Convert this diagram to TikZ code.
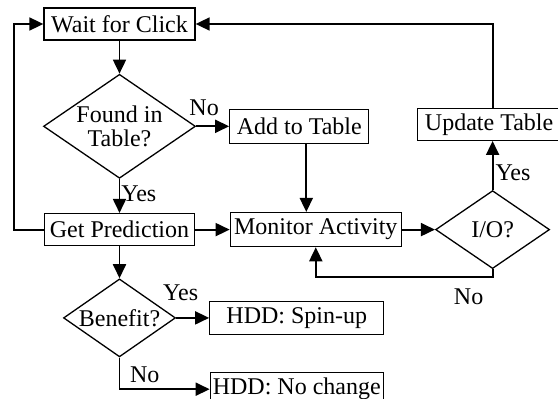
\documentclass[tikz,border=0pt]{standalone}
\usepackage{fontspec}
\setmainfont{Liberation Serif}
\usetikzlibrary{arrows.meta, shapes.geometric, positioning}

\begin{document}
\begin{tikzpicture}[x=1pt, y=1pt,
    block/.style={rectangle, draw, line width=1.3pt, inner sep=0pt, minimum height=32pt},
    decision/.style={diamond, draw, line width=1.3pt, inner sep=0pt, aspect=1.46, align=center},
    arr/.style={line width=1.8pt, -{Triangle[length=14pt, width=13pt]}},
    lbl/.style={inner sep=0pt},
    font=\fontsize{24pt}{24pt}\selectfont,
    node distance=33pt]
        \useasboundingbox (0,0) rectangle (558,-399);
        \node[block, minimum width=151pt] (wait) at (119.5,-24) {Wait for Click};
        \node[decision, minimum width=152pt, minimum height=104pt] (found) [below = of wait] {Found in\\Table?};
        \node[block, minimum width=139pt, minimum height=34pt] (add) [right = of found] {Add to Table};
        \node[block, minimum width=150pt] (pred) [below = 34pt of found] {Get Prediction};
        \node[block, minimum width=171pt, minimum height=34pt] (monitor) [right = 34.5pt of pred] {Monitor Activity};
        \node[decision, minimum width=114pt, minimum height=78pt] (io) [right = of monitor] {I/O?};
        \node[block, minimum width=143pt] (update) [above = 49pt of io, xshift=-3.5pt] {Update Table};
        \node[decision, minimum width=112pt, minimum height=78pt] (benefit) [below = 32pt of pred] {Benefit?};
        \node[block, minimum width=174pt, minimum height=33pt] (spin) [right = of benefit] {HDD: Spin-up};
        \node[block, minimum width=173pt, minimum height=33pt] (nochange) [below = 37pt of spin] {HDD: No change};

        \path[arr] (wait) edge (found);
        \path[arr] (found) edge node[lbl, at start, anchor=south, xshift=8pt, yshift=10pt] {No} (add);
        \path[arr] (found) edge node[lbl, at start, anchor=north west, xshift=1pt, yshift=-6pt] {Yes} (pred);
        \path[arr] (pred) edge (monitor);
        \path[arr] (monitor) edge (io);
        \path[arr] (pred) edge (benefit);
        \path[arr] (benefit) edge node[lbl, at start, anchor=south, xshift=4.5pt, yshift=16pt] {Yes} (spin);

        % loops back to the top and the monitor
        \draw[arr] ([xshift=7pt]add.south) -- ([xshift=7pt]add.south |- monitor.north);
        \draw[arr] (io.north) -- node[lbl, at start, anchor=south west, xshift=2pt, yshift=8pt] {Yes} (io.north |- update.south);
        \draw[arr] (pred.west) -- ++(-30pt,0) |- (wait.west);
        \draw[arr] (io.north |- update.north) |- (wait.east);
        \draw[arr] (io.south) -- ++(0,-8pt) node[lbl, anchor=north, xshift=-24pt, yshift=-11pt] {No} -| (monitor.south);
        \draw[arr] (benefit.south) |- node[lbl, pos=0.64, above=6pt] {No} (nochange.west);
    \end{tikzpicture}
\end{document}
